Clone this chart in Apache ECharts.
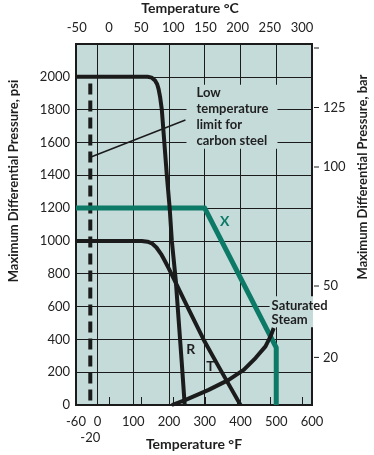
<!DOCTYPE html>
<html><head><meta charset="utf-8">
<script src="https://cdn.jsdelivr.net/npm/echarts@6/dist/echarts.min.js"></script>
<style>html,body{margin:0;padding:0;background:#fff}#c{width:374px;height:455px}</style>
</head><body><div id="c"></div>
<script>
// ---- data ----
const fTicks = [-60, 0, 100, 200, 300, 400, 500, 600];
const fSecondRow = [-20];
const cTicks = [-50, 0, 50, 100, 150, 200, 250, 300];
const barLabels = [20, 50, 100, 125];
const barTicks = [20, 50, 100, 125, 150];
const PSI_PER_BAR = 14.5038;

const curveR = [[-60,2000],[140,2000],[152,1995],[161,1978],[167,1955],[171,1925],[175,1880],[180,1800],[187,1600],[194,1400],[202,1200],[208,1000],[219,760],[227,520],[236,250],[244,0]];
const curveT = [[-60,1000],[124,1000],[140,995],[152,985],[165,960],[178,920],[189,876],[200,830],[217,754],[250,605],[297,398],[339,234],[370,115],[400,0]];
const curveX = [[-60,1200],[300,1200],[500,350],[500,0]];
const curveSteam = [[208,0],[245,30],[311,92],[367,153],[409,214],[442,286],[470,357],[484,418],[493,469]];
const carbonLimit = [[-20,1960],[-20,0]];
const leader = [[-20,1510],[246,1737]];

// annotation anchors (data coords)
const noteLow = {pos:[249,1951], text:['Low','temperature','limit for','carbon steel']};
const noteSteam = {pos:[487,650], text:['Saturated','Steam']};
const labelX = {pos:[356,1119], text:'X'};
const labelR = {pos:[261,336], text:'R'};
const labelT = {pos:[316,234], text:'T'};

// ---- style ----
const BG = '#c4dbd9', TEAL = '#0c7a67', DARK = '#1b1b1b', FONT = 'Lato';

const chart = echarts.init(document.getElementById('c'));
const cMin = (-60 - 32) / 1.8, cMax = (600 - 32) / 1.8;

function lineSeries(name, data, color, width, extra) {
  return Object.assign({
    name, type: 'line', data, symbol: 'none', xAxisIndex: 0, yAxisIndex: 0,
    lineStyle: {color, width, cap: 'butt', join: 'round'}, animation: false, silent: true
  }, extra || {});
}

chart.setOption({
  animation: false,
  textStyle: {fontFamily: FONT},
  grid: {left: 76, right: 62, top: 44, bottom: 50, show: true, backgroundColor: BG, borderColor: DARK, borderWidth: 2},
  xAxis: [
    {type: 'value', position: 'bottom', min: -60, max: 600,
      axisLine: {show: false}, axisTick: {show: false, customValues: fTicks},
      axisLabel: {customValues: fTicks, margin: 10, fontSize: 13, color: '#222', fontFamily: FONT},
      splitLine: {show: true, lineStyle: {color: DARK, width: 1}}},
    {type: 'value', position: 'top', min: cMin, max: cMax,
      axisLine: {show: false}, axisTick: {show: true, inside: false, length: 8, customValues: cTicks, lineStyle: {color: DARK, width: 1}},
      axisLabel: {customValues: cTicks, margin: 10, fontSize: 13, color: '#222', fontFamily: FONT},
      splitLine: {show: false}},
    {type: 'value', position: 'bottom', offset: 16, min: -60, max: 600,
      axisLine: {show: false}, axisTick: {show: false, customValues: fSecondRow},
      axisLabel: {customValues: fSecondRow, margin: 10, fontSize: 13, color: '#222', fontFamily: FONT},
      splitLine: {show: false}}
  ],
  yAxis: [
    {type: 'value', position: 'left', min: 0, max: 2200, interval: 200,
      axisLine: {show: false}, axisTick: {show: false},
      axisLabel: {showMaxLabel: false, margin: 6, fontSize: 13, color: '#222', fontFamily: FONT, formatter: v => String(v)},
      splitLine: {show: true, lineStyle: {color: DARK, width: 1}}},
    {type: 'value', position: 'right', min: 0, max: 2200 / PSI_PER_BAR,
      axisLine: {show: false},
      axisTick: {show: false, customValues: barLabels},
      axisLabel: {customValues: barLabels, margin: 11, fontSize: 13, color: '#222', fontFamily: FONT},
      splitLine: {show: false}}
  ],
  series: [
    lineSeries('leader', leader, DARK, 1.5),
    lineSeries('limit', carbonLimit, DARK, 4, {lineStyle: {color: DARK, width: 4, type: [11, 6]}}),
    lineSeries('X', curveX, TEAL, 5),
    lineSeries('T', curveT, DARK, 4),
    lineSeries('R', curveR, DARK, 4),
    lineSeries('Saturated steam', curveSteam, DARK, 4)
  ]
});

const px = p => chart.convertToPixel({xAxisIndex: 0, yAxisIndex: 0}, p);
const pLow = px(noteLow.pos), pSteam = px(noteSteam.pos);
const pX = px(labelX.pos), pR = px(labelR.pos), pT = px(labelT.pos);
const gridRect = chart.getModel().getComponent('grid').coordinateSystem.getRect();
const rightEdge = gridRect.x + gridRect.width;

const titleStyle = {fontFamily: FONT, fontWeight: 'bold', fontSize: 14, fill: '#1f1f1f', textAlign: 'center', textVerticalAlign: 'middle'};

const barTickMarks = barTicks.map(v => {
  const y = chart.convertToPixel({yAxisIndex: 1}, v);
  return {type: 'line', z: 100, shape: {x1: rightEdge + 2, y1: y, x2: rightEdge + 7, y2: y}, style: {stroke: DARK, lineWidth: 1}};
});

chart.setOption({
  graphic: [
    {type: 'text', x: 190, y: 8, style: Object.assign({text: 'Temperature \u00b0C'}, titleStyle), z: 100},
    {type: 'text', x: 194, y: 444, style: Object.assign({text: 'Temperature \u00b0F'}, titleStyle), z: 100},
    {type: 'text', x: 14, y: 181, rotation: Math.PI / 2, style: Object.assign({text: 'Maximum Differential Pressure, psi'}, titleStyle, {fontSize: 13}), z: 100},
    {type: 'text', x: 363, y: 177, rotation: Math.PI / 2, style: Object.assign({text: 'Maximum Differential Pressure, bar'}, titleStyle, {fontSize: 13}), z: 100},
    {type: 'text', x: pLow[0], y: pLow[1], z: 100,
      style: {text: noteLow.text.join('\n'), fontFamily: FONT, fontWeight: 'bold', fontSize: 13, lineHeight: 16,
        fill: '#1f1f1f', backgroundColor: BG, padding: [0, 9, 0, 10], textAlign: 'left', textVerticalAlign: 'top'}},
    {type: 'rect', z: 1, shape: {x: pSteam[0] - 2, y: pSteam[1] - 2, width: rightEdge + 1 - (pSteam[0] - 2), height: 31},
      style: {fill: BG}},
    {type: 'text', x: pSteam[0], y: pSteam[1], z: 100,
      style: {text: noteSteam.text.join('\n'), fontFamily: FONT, fontWeight: 'bold', fontSize: 13, lineHeight: 14,
        fill: '#1f1f1f', textAlign: 'left', textVerticalAlign: 'top'}},
    {type: 'text', x: pX[0], y: pX[1], z: 100, style: {text: labelX.text, fontFamily: FONT, fontWeight: 'bold', fontSize: 14, fill: TEAL, textAlign: 'center', textVerticalAlign: 'middle'}},
    {type: 'text', x: pR[0], y: pR[1], z: 100, style: {text: labelR.text, fontFamily: FONT, fontWeight: 'bold', fontSize: 14, fill: '#1f1f1f', textAlign: 'center', textVerticalAlign: 'middle'}},
    {type: 'text', x: pT[0], y: pT[1], z: 100, style: {text: labelT.text, fontFamily: FONT, fontWeight: 'bold', fontSize: 14, fill: '#1f1f1f', textAlign: 'center', textVerticalAlign: 'middle'}}
  ].concat(barTickMarks)
});
</script>
</body></html>
